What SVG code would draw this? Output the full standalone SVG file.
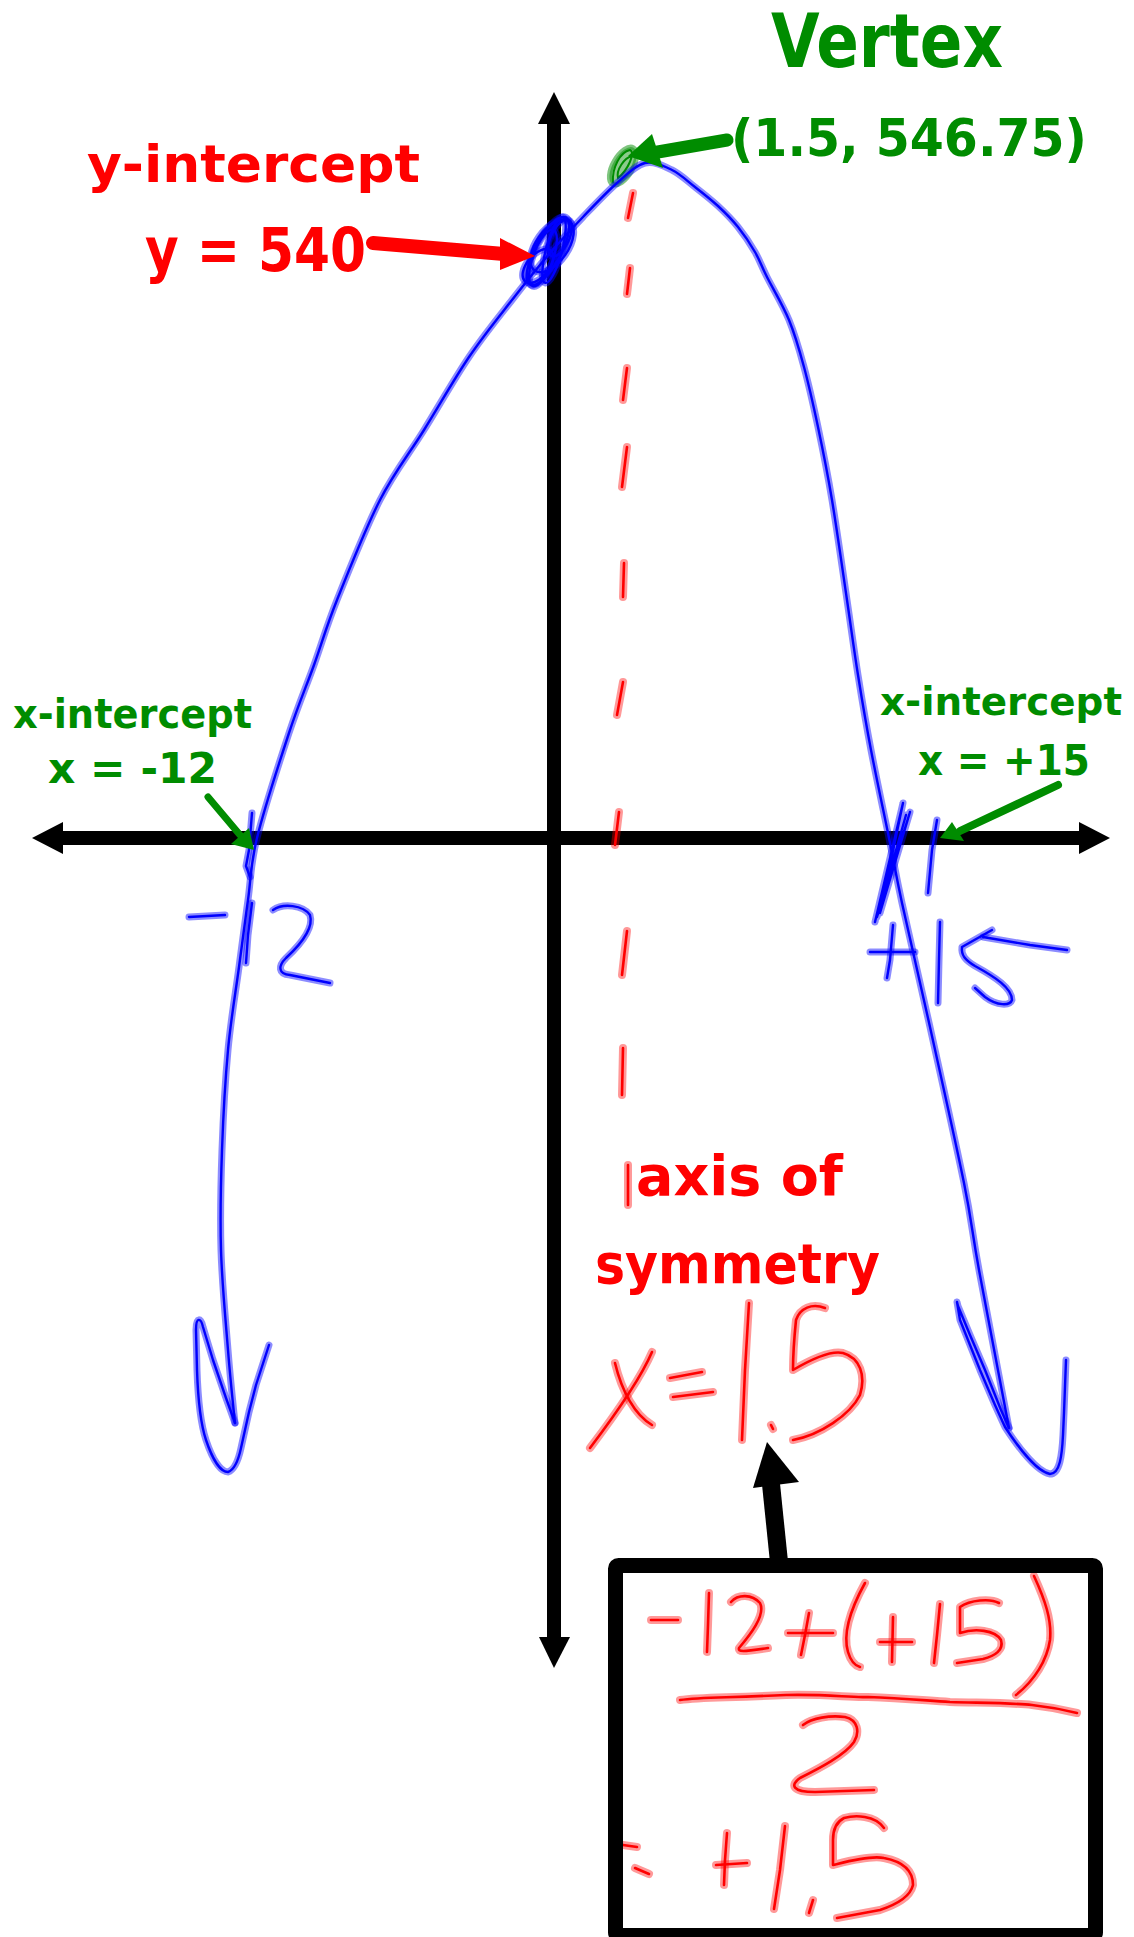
<svg xmlns="http://www.w3.org/2000/svg" xmlns:xlink="http://www.w3.org/1999/xlink" width="1134" height="1937" viewBox="0 0 1134 1937">
<style>
.t{font-family:"DejaVu Sans","Liberation Sans",sans-serif;font-weight:bold}
.g{fill:#008c00}
.r{fill:#ff0000}
.ink{fill:none;stroke-linecap:round;stroke-linejoin:round}
</style>
<defs>
<g id="blueInk">
<path d="M235,1423 C235,1423 230.3,1378.8 228,1350 S222,1283.3 221,1250 S220.8,1183.3 222,1150 S225.2,1080.5 228,1050 S235.7,992 239,967 S245,921.5 248,900 S250.2,865.8 257,838 S279.5,761.8 289,733 S306,687.2 314,665 S326,627.5 337,600 S365.5,528.3 380,500 S409.2,453.8 424,430 S454.3,378.7 469,357 S498.5,317.3 512,300 S538.2,266.8 550,253 S571.8,228.7 583,217 S606.7,192 617,183 S635.8,165.2 645,163 S663.7,166 672,170 S687.3,181 695,187 S710.8,199.3 718,206 S731.8,219.3 738,227 S750.2,243.7 755,252 S761.3,265.7 767,277 S782.8,305 789,320 S799.2,349.2 804,367 S813.3,404.8 818,427 S827.2,471.2 832,500 S842.7,570.8 847,600 S854,650 858,675 S865.8,722.8 871,750 S883.8,812.5 889,838 S895.2,871.5 902,903 S919.7,980.3 930,1027 S955.8,1142.5 964,1183 S971.5,1229.2 979,1270 S999,1375.3 1009,1428"/>
<path d="M235,1423 L226,1398 L213,1360 L203,1327 C201,1318 196,1316 196,1330 L197,1370 C198,1400 201,1425 206,1440 C212,1458 220,1472 228,1472 C234,1470 238,1462 241,1448 L249,1412 L256,1385 L269,1345"/>
<path d="M1009,1428 L1001,1410 L985,1370 L970,1335 L958,1306 L957,1302 L960,1320 L968,1340 L980,1370 L995,1405 L1005,1427 C1020,1450 1038,1472 1050,1474 C1060,1474 1062,1455 1063,1435 L1064,1413 L1066,1360"/>
<path d="M252,813 L249,850 L246,866 L250,877"/>
<path d="M189,917 L225,915"/>
<path d="M252,903 L248,935 L246,963"/>
<path d="M273,910 C283,903 303,905 310,915 C314,928 300,945 286,958 C278,966 278,974 290,975 L330,983"/>
<path d="M875,922 L903,803 L880,913 L910,812 L877,917 L906,815"/>
<path d="M937,820 L932,850 L928,893"/>
<path d="M870,952 L915,952"/>
<path d="M893,925 L890,960 L887,978"/>
<path d="M940,922 L939,960 L938,1003"/>
<path d="M983,937 L1030,945 L1067,950"/>
<path d="M992,930 L962,947 C961,955 965,960 975,966 C995,977 1012,988 1012,1000 C1010,1006 997,1006 985,997 L975,988"/>
<ellipse cx="548" cy="251" rx="38" ry="13" transform="rotate(-62 548 251)"/>
<ellipse cx="543" cy="258" rx="30" ry="10" transform="rotate(-70 543 258)"/>
<ellipse cx="552" cy="246" rx="30" ry="16" transform="rotate(-55 552 246)"/>
<ellipse cx="560" cy="238" rx="20" ry="9" transform="rotate(-65 560 238)"/>
<ellipse cx="538" cy="266" rx="20" ry="11" transform="rotate(-50 538 266)"/>
<ellipse cx="554" cy="250" rx="34" ry="8" transform="rotate(-75 554 250)"/>
</g>
<g id="redInk">
<path d="M633,193 L628,218"/>
<path d="M630,268 L627,294"/>
<path d="M627,368 L623,400"/>
<path d="M627,447 L622,487"/>
<path d="M624,563 L623,597"/>
<path d="M623,682 L617,715"/>
<path d="M619,812 L615,845"/>
<path d="M627,931 L622,975"/>
<path d="M623,1048 L622,1095"/>
<path d="M628,1165 L628,1205"/>
<path d="M652,1352 C640,1380 615,1415 590,1448"/>
<path d="M615,1363 C622,1392 635,1415 652,1425"/>
<path d="M670,1378 L702,1372"/>
<path d="M673,1397 L713,1392"/>
<path d="M749,1303 L745,1370 L742,1440"/>
<path d="M771,1425 L773,1429"/>
<path d="M825,1308 C812,1303 800,1308 796,1320 C794,1340 793,1360 793,1370 C810,1360 830,1350 843,1353 C860,1358 866,1375 860,1395 C850,1415 820,1435 793,1440"/>
<path d="M651,1620 L678,1620"/>
<path d="M709,1593 L708,1625 L707,1652"/>
<path d="M731,1602 C738,1594 752,1594 760,1603 C766,1615 750,1635 739,1648 C738,1652 742,1652 768,1648"/>
<path d="M788,1633 L833,1633"/>
<path d="M809,1613 L805,1635 L801,1655"/>
<path d="M865,1583 C850,1610 843,1635 848,1652 C851,1662 856,1666 860,1667"/>
<path d="M880,1642 L912,1642"/>
<path d="M893,1617 L892,1662"/>
<path d="M940,1604 L937,1635 L934,1663"/>
<path d="M999,1603 C990,1598 970,1600 960,1607 L960,1633 C975,1628 995,1630 1001,1640 C1004,1650 995,1656 983,1659 L957,1663"/>
<path d="M1034,1576 C1045,1600 1052,1620 1050,1640 C1047,1660 1035,1680 1016,1695"/>
<path d="M680,1700 C700,1697 720,1698 786,1695 C830,1694 850,1698 868,1697 C900,1698 920,1700 950,1702 C990,1703 1015,1703 1032,1705 C1050,1707 1065,1710 1077,1713"/>
<path d="M803,1725 C812,1718 830,1715 845,1717 C858,1720 860,1732 854,1742 C845,1755 820,1768 800,1778 C790,1785 792,1792 815,1792 L874,1790"/>
<path d="M623,1845 L637,1847"/>
<path d="M635,1868 L649,1874"/>
<path d="M716,1865 L747,1863"/>
<path d="M727,1833 L725,1860 L724,1885"/>
<path d="M785,1826 L780,1870 L774,1909"/>
<path d="M813,1900 L809,1913"/>
<path d="M884,1828 C875,1815 855,1815 844,1818 C836,1822 833,1830 833,1840 L833,1865 C845,1862 870,1855 884,1858 C905,1862 913,1872 913,1885 C910,1898 895,1905 880,1910 L837,1918"/>
</g>
</defs>

<g id="axes">
<line x1="554" y1="118" x2="554" y2="1642" stroke="#000" stroke-width="14"/>
<polygon points="554,92 538,124 570,124" fill="#000"/>
<polygon points="554,1668 539,1637 570,1637" fill="#000"/>
<line x1="60" y1="838" x2="1082" y2="838" stroke="#000" stroke-width="14"/>
<polygon points="32,838 63,822 63,854" fill="#000"/>
<polygon points="1110,838 1079,822 1079,854" fill="#000"/>
</g>

<g id="symmetry-axis">
<use xlink:href="#redInk" class="ink" stroke="#ff0000" stroke-opacity="0.4" stroke-width="8"/>
<use xlink:href="#redInk" class="ink" stroke="#ff0000" stroke-width="2.6"/>
</g>

<g id="vertex-mark" fill="none" stroke="#008c00" stroke-linecap="round">
<ellipse cx="623" cy="166" rx="21" ry="10" transform="rotate(-60 623 166)" fill="#008c00" fill-opacity="0.45" stroke-opacity="0.5" stroke-width="5"/>
<path d="M613,182 C612,168 620,152 630,150 C636,152 628,170 618,178 C616,170 624,158 632,156" stroke-width="2"/>
</g>

<g id="parabola">
<use xlink:href="#blueInk" class="ink" stroke="#0000ff" stroke-opacity="0.45" stroke-width="7"/>
<use xlink:href="#blueInk" class="ink" stroke="#0000ff" stroke-width="2.4"/>
</g>

<g id="connectors">
<line x1="373" y1="243" x2="504" y2="254" stroke="#ff0000" stroke-width="14" stroke-linecap="round"/>
<polygon points="500,238 535,256 500,270" fill="#ff0000"/>
<line x1="727" y1="140" x2="652" y2="153" stroke="#008c00" stroke-width="13" stroke-linecap="round"/>
<polygon points="652,134 628,156 663,168" fill="#008c00"/>
<line x1="208" y1="797" x2="240" y2="835" stroke="#008c00" stroke-width="7" stroke-linecap="round"/>
<polygon points="231,844 249,828 254,850" fill="#008c00"/>
<line x1="1058" y1="785" x2="960" y2="831" stroke="#008c00" stroke-width="8" stroke-linecap="round"/>
<polygon points="940,838 952,822 964,841" fill="#008c00"/>
<line x1="779" y1="1562" x2="771" y2="1484" stroke="#000" stroke-width="18"/>
<polygon points="767,1442 753,1488 799,1482" fill="#000"/>
</g>

<g id="calc-box">
<rect x="615.5" y="1565.5" width="480" height="370" rx="3" fill="none" stroke="#000" stroke-width="15"/>
</g>

<g id="labels">
<text class="t g" x="771" y="67" font-size="75" textLength="232" lengthAdjust="spacingAndGlyphs">Vertex</text>
<text class="t g" x="731" y="156" font-size="52" textLength="356" lengthAdjust="spacingAndGlyphs">(1.5, 546.75)</text>
<text class="t r" x="87" y="182" font-size="52" textLength="333" lengthAdjust="spacingAndGlyphs">y-intercept</text>
<text class="t r" x="145" y="271" font-size="60" textLength="221" lengthAdjust="spacingAndGlyphs">y = 540</text>
<text class="t g" x="13" y="728" font-size="40" textLength="239" lengthAdjust="spacingAndGlyphs">x-intercept</text>
<text class="t g" x="48" y="783" font-size="42" textLength="169" lengthAdjust="spacingAndGlyphs">x = -12</text>
<text class="t g" x="880" y="715" font-size="39" textLength="242" lengthAdjust="spacingAndGlyphs">x-intercept</text>
<text class="t g" x="918" y="775" font-size="42" textLength="172" lengthAdjust="spacingAndGlyphs">x = +15</text>
<text class="t r" x="636" y="1195" font-size="55" textLength="207" lengthAdjust="spacingAndGlyphs">axis of</text>
<text class="t r" x="595" y="1283" font-size="55" textLength="285" lengthAdjust="spacingAndGlyphs">symmetry</text>
</g>
</svg>
